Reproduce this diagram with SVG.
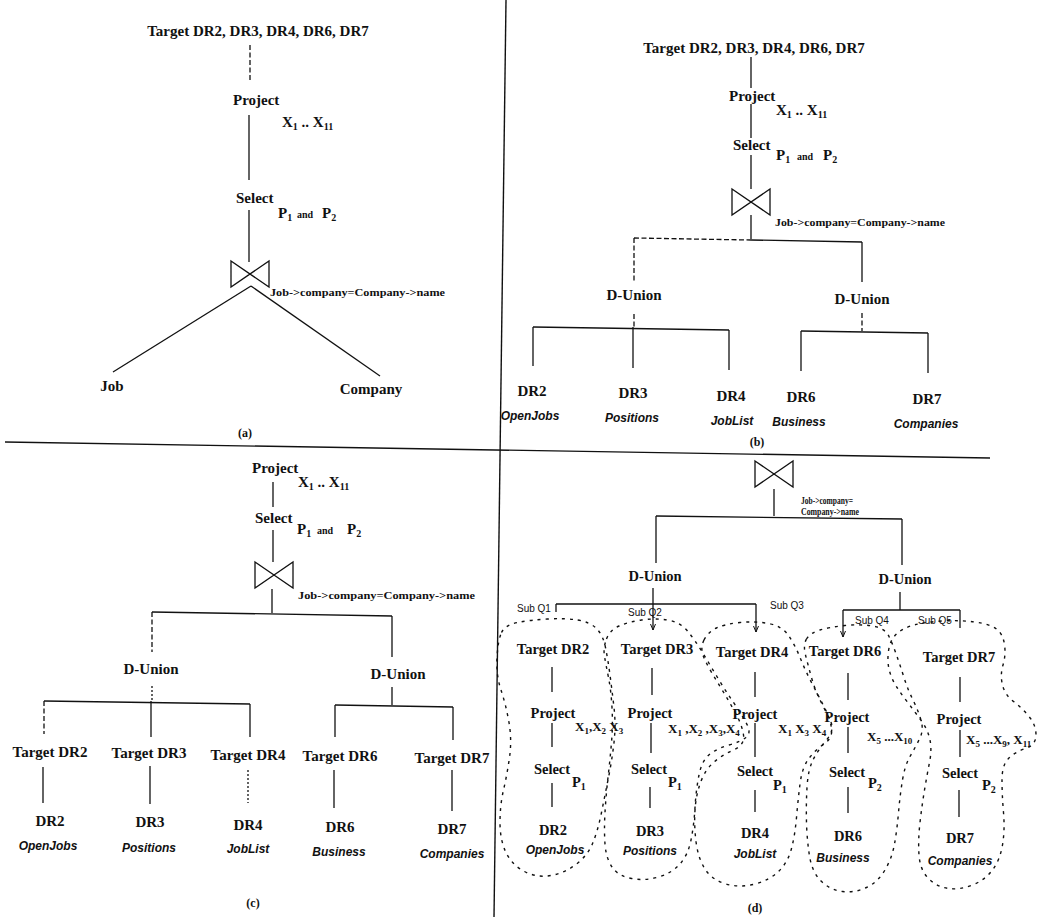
<svg xmlns="http://www.w3.org/2000/svg" width="1038" height="917" viewBox="0 0 1038 917">
<style>
.t{font-family:"Liberation Serif","Times New Roman",serif;font-weight:bold;font-size:15px;fill:#111}
.d{font-size:14.5px}
.xs{font-size:13px}
.m{text-anchor:middle}
.sb{font-size:10px}
.sb2{font-size:9px}
.sm{font-size:10px}
.j{font-size:11px}
.j2{font-size:10px}
.i{font-family:"Liberation Sans",Arial,sans-serif;font-weight:bold;font-style:italic;font-size:12px;fill:#111;text-anchor:middle}
.q{font-family:"Liberation Sans",Arial,sans-serif;font-size:10px;fill:#111}
.cap{font-family:"Liberation Serif",serif;font-weight:bold;font-size:12px;fill:#111;text-anchor:middle}
.ln{stroke:#111;stroke-width:1.3;fill:none}
.ds{stroke-dasharray:5 2.5}
.dt{stroke-dasharray:2 2}
.bt{stroke:#111;stroke-width:1.3;fill:none}
.bl{stroke:#111;stroke-width:1.4;fill:none;stroke-dasharray:3 5;stroke-linejoin:round}
.dv{stroke:#111;stroke-width:1.4}
</style>
<defs>
<path id="bow" d="M-19,-13 L19,13 L19,-13 L-19,13 Z"/>
<marker id="ah" viewBox="0 0 6 6" refX="6" refY="3" markerWidth="6" markerHeight="6" markerUnits="userSpaceOnUse" orient="auto"><path d="M0,0.5 L6,3 L0,5.5" fill="none" stroke="#111" stroke-width="1"/></marker>
</defs>
<rect width="1038" height="917" fill="#fff"/>

<g id="dividers">
<line class="dv" x1="5" y1="442" x2="990" y2="458"/>
<line class="dv" x1="506" y1="0" x2="494" y2="917"/>
</g>

<g id="connectors">
<!-- (a) -->
<line class="ln ds" x1="250" y1="45" x2="250" y2="82"/>
<line class="ln" x1="249" y1="115" x2="249" y2="180"/>
<line class="ln" x1="249" y1="210" x2="249" y2="262"/>
<line class="ln" x1="251" y1="286" x2="113" y2="372"/>
<line class="ln" x1="251" y1="286" x2="380" y2="376"/>
<!-- (b) -->
<line class="ln" x1="751" y1="57" x2="751" y2="88"/>
<line class="ln" x1="751" y1="104" x2="751" y2="138"/>
<line class="ln" x1="751" y1="155" x2="751" y2="189"/>
<line class="ln" x1="751" y1="215" x2="751" y2="239"/>
<line class="ln ds" x1="634" y1="238" x2="751" y2="240"/>
<line class="ln" x1="751" y1="240" x2="862" y2="242"/>
<line class="ln ds" x1="634" y1="238" x2="634" y2="281"/>
<line class="ln" x1="862" y1="242" x2="862" y2="282"/>
<line class="ln ds" x1="634" y1="314" x2="634" y2="327"/>
<line class="ln" x1="533" y1="327" x2="729" y2="330"/>
<line class="ln" x1="533" y1="327" x2="533" y2="366"/>
<line class="ln" x1="633" y1="327" x2="633" y2="368"/>
<line class="ln" x1="729" y1="330" x2="729" y2="370"/>
<line class="ln ds" x1="862" y1="313" x2="862" y2="331"/>
<line class="ln" x1="801" y1="331" x2="928" y2="333"/>
<line class="ln" x1="801" y1="331" x2="801" y2="371"/>
<line class="ln" x1="928" y1="333" x2="928" y2="373"/>
<!-- (c) -->
<line class="ln" x1="273" y1="482" x2="273" y2="507"/>
<line class="ln" x1="273" y1="530" x2="273" y2="562"/>
<line class="ln" x1="272" y1="589" x2="272" y2="613"/>
<line class="ln" x1="152" y1="612" x2="392" y2="616"/>
<line class="ln ds" x1="152" y1="612" x2="152" y2="652"/>
<line class="ln" x1="392" y1="616" x2="392" y2="657"/>
<line class="ln dt" x1="152" y1="686" x2="152" y2="701"/>
<line class="ln" x1="44" y1="701" x2="250" y2="704"/>
<line class="ln ds" x1="44" y1="701" x2="44" y2="734"/>
<line class="ln" x1="151" y1="701" x2="151" y2="737"/>
<line class="ln" x1="250" y1="704" x2="250" y2="737"/>
<line class="ln" x1="392" y1="687" x2="392" y2="705"/>
<line class="ln" x1="335" y1="705" x2="453" y2="707"/>
<line class="ln" x1="335" y1="705" x2="335" y2="737"/>
<line class="ln" x1="453" y1="707" x2="453" y2="740"/>
<line class="ln" x1="43" y1="767" x2="43" y2="803"/>
<line class="ln" x1="150" y1="766" x2="150" y2="804"/>
<line class="ln dt" x1="248" y1="770" x2="248" y2="803"/>
<line class="ln" x1="334" y1="770" x2="334" y2="808"/>
<line class="ln" x1="452" y1="770" x2="452" y2="811"/>
<!-- (d) -->
<line class="ln" x1="774" y1="489" x2="774" y2="516"/>
<line class="ln" x1="656" y1="516" x2="902" y2="519"/>
<line class="ln" x1="656" y1="516" x2="656" y2="563"/>
<line class="ln" x1="902" y1="519" x2="902" y2="565"/>
<line class="ln" x1="653" y1="588" x2="653" y2="630" marker-end="url(#ah)"/>
<line class="ln" x1="556" y1="604" x2="756" y2="604"/>
<line class="ln" x1="556" y1="604" x2="556" y2="612"/>
<line class="ln" x1="756" y1="604" x2="756" y2="632" marker-end="url(#ah)"/>
<line class="ln" x1="900" y1="592" x2="900" y2="610"/>
<line class="ln" x1="843" y1="610" x2="960" y2="610"/>
<line class="ln" x1="843" y1="610" x2="843" y2="637" marker-end="url(#ah)"/>
<line class="ln" x1="960" y1="610" x2="960" y2="628"/>
<line class="ln" x1="552" y1="667" x2="552" y2="692"/>
<line class="ln" x1="552" y1="723" x2="552" y2="747"/>
<line class="ln" x1="552" y1="783" x2="552" y2="807"/>
<line class="ln" x1="652" y1="668" x2="652" y2="695"/>
<line class="ln" x1="651" y1="723" x2="651" y2="753"/>
<line class="ln" x1="650" y1="787" x2="650" y2="808"/>
<line class="ln" x1="755" y1="672" x2="755" y2="697"/>
<line class="ln" x1="755" y1="723" x2="755" y2="757"/>
<line class="ln" x1="755" y1="790" x2="755" y2="812"/>
<line class="ln" x1="848" y1="673" x2="848" y2="700"/>
<line class="ln" x1="848" y1="727" x2="848" y2="753"/>
<line class="ln" x1="848" y1="787" x2="848" y2="813"/>
<line class="ln" x1="960" y1="677" x2="960" y2="702"/>
<line class="ln" x1="960" y1="730" x2="960" y2="757"/>
<line class="ln" x1="959" y1="790" x2="959" y2="817"/>
</g>

<g id="subqueries">
<path id="subq1" class="bl" d="M501.5,632.5 Q505,625 517.5,622.5 Q530,620 547.5,619 Q565,618 577.5,620 Q590,622 596.5,628.5 Q603,635 605.5,647.5 Q608,660 610,675 Q612,690 614,707.5 Q616,725 614,742.5 Q612,760 608.5,777.5 Q605,795 601.5,812.5 Q598,830 593,842.5 Q588,855 576.5,864 Q565,873 551,875.5 Q537,878 524.5,871.5 Q512,865 506,852.5 Q500,840 500,822.5 Q500,805 503.5,790 Q507,775 509.5,757.5 Q512,740 509,722.5 Q506,705 501,690 Q496,675 497,657.5 Q498,640 501.5,632.5 Z"/>
<path id="subq2" class="bl" d="M606.5,639 Q610,630 619,626 Q628,622 641.5,620 Q655,618 667.5,620 Q680,622 687.5,631 Q695,640 702.5,652.5 Q710,665 717.5,677.5 Q725,690 732.5,701 Q740,712 746,722.5 Q752,733 746,737.5 Q740,742 729,745 Q718,748 710,754 Q702,760 699,775 Q696,790 695,807.5 Q694,825 691,840 Q688,855 680,864 Q672,873 658.5,877 Q645,881 631.5,878.5 Q618,876 612,867 Q606,858 605,844 Q604,830 605,812.5 Q606,795 608,777.5 Q610,760 611.5,742.5 Q613,725 612,707.5 Q611,690 608.5,677.5 Q606,665 604.5,656.5 Q603,648 606.5,639 Z"/>
<path id="subq3" class="bl" d="M704,640 Q708,632 716.5,628 Q725,624 740,622.5 Q755,621 768.5,623.5 Q782,626 788.5,635.5 Q795,645 800,657.5 Q805,670 811.5,682.5 Q818,695 824,706.5 Q830,718 831.5,728 Q833,738 824,744 Q815,750 808.5,759 Q802,768 800,784 Q798,800 796.5,817.5 Q795,835 791.5,848.5 Q788,862 779,871 Q770,880 755,884 Q740,888 726,884 Q712,880 705,869 Q698,858 696,841.5 Q694,825 695,810 Q696,795 700.5,782.5 Q705,770 713.5,762.5 Q722,755 733.5,750 Q745,745 743.5,735 Q742,725 736,714 Q730,703 724,693 Q718,683 712.5,674 Q707,665 703.5,656.5 Q700,648 704,640 Z"/>
<path id="subq4" class="bl" d="M806.5,639 Q810,633 820,630 Q830,627 845,625.5 Q860,624 872.5,626 Q885,628 889,636.5 Q893,645 896.5,655 Q900,665 904,677.5 Q908,690 913,700 Q918,710 921,720 Q924,730 919.5,739 Q915,748 910,756.5 Q905,765 902.5,780 Q900,795 898.5,812.5 Q897,830 894.5,844 Q892,858 885,870 Q878,882 866.5,887.5 Q855,893 842.5,891.5 Q830,890 821,881 Q812,872 809.5,856 Q807,840 806.5,822.5 Q806,805 807,787.5 Q808,770 813,760 Q818,750 826.5,740 Q835,730 830.5,721 Q826,712 820.5,701 Q815,690 811.5,677.5 Q808,665 805.5,655 Q803,645 806.5,639 Z"/>
<path id="subq5" class="bl" d="M888.5,651 Q890,640 896.5,634 Q903,628 914,625 Q925,622 942.5,621 Q960,620 975,622 Q990,624 996.5,629 Q1003,634 1004.5,644.5 Q1006,655 1003,665 Q1000,675 1002.5,685 Q1005,695 1013.5,701.5 Q1022,708 1029,716.5 Q1036,725 1036,735 Q1036,745 1025.5,748.5 Q1015,752 1008.5,758.5 Q1002,765 1002,780 Q1002,795 1003.5,812.5 Q1005,830 1002.5,845 Q1000,860 992.5,870 Q985,880 972.5,885 Q960,890 948.5,888.5 Q937,887 928.5,878.5 Q920,870 919,855 Q918,840 920,822.5 Q922,805 924.5,790 Q927,775 929.5,762.5 Q932,750 930,740 Q928,730 921.5,721 Q915,712 908.5,703.5 Q902,695 897,687.5 Q892,680 889.5,671 Q887,662 888.5,651 Z"/>
</g>

<!-- ===== (a) ===== -->
<g id="a-target"><text class="t m" x="258" y="36">Target DR2, DR3, DR4, DR6, DR7</text></g>
<g id="a-project"><text class="t" x="233" y="105">Project</text>
<text class="t" x="282" y="127">X<tspan class="sb" dy="3">1</tspan><tspan dy="-3"> .. X</tspan><tspan class="sb" dy="3">11</tspan></text></g>
<g id="a-select"><text class="t" x="236" y="203">Select</text>
<text class="t" x="278" y="218">P<tspan class="sb" dy="3">1</tspan><tspan class="sm" x="297" dy="-3">and</tspan><tspan x="322">P</tspan><tspan class="sb" dy="3">2</tspan></text></g>
<g id="a-join"><use href="#bow" class="bt" transform="translate(250,274)"/>
<text class="t j" x="270" y="296" textLength="175" lengthAdjust="spacingAndGlyphs">Job-&gt;company=Company-&gt;name</text></g>
<g id="a-job"><text class="t m" x="112" y="391">Job</text></g>
<g id="a-company"><text class="t m" x="371" y="394">Company</text></g>
<g id="a-caption"><text class="cap" x="245" y="437">(a)</text></g>

<!-- ===== (b) ===== -->
<g id="b-target"><text class="t m" x="754" y="53">Target DR2, DR3, DR4, DR6, DR7</text></g>
<g id="b-project"><text class="t" x="729" y="101">Project</text>
<text class="t" x="776" y="115">X<tspan class="sb" dy="3">1</tspan><tspan dy="-3"> .. X</tspan><tspan class="sb" dy="3">11</tspan></text></g>
<g id="b-select"><text class="t" x="733" y="150">Select</text>
<text class="t" x="776" y="160">P<tspan class="sb" dy="3">1</tspan><tspan class="sm" x="797" dy="-3">and</tspan><tspan x="823">P</tspan><tspan class="sb" dy="3">2</tspan></text></g>
<g id="b-join"><use href="#bow" class="bt" transform="translate(751,202)"/>
<text class="t j" x="775" y="226" textLength="170" lengthAdjust="spacingAndGlyphs">Job-&gt;company=Company-&gt;name</text></g>
<g id="b-dunion1"><text class="t m" x="634" y="300">D-Union</text></g>
<g id="b-dunion2"><text class="t m" x="862" y="304">D-Union</text></g>
<g id="b-dr2"><text class="t m" x="532" y="396">DR2</text><text class="i" x="530" y="420">OpenJobs</text></g>
<g id="b-dr3"><text class="t m" x="633" y="398">DR3</text><text class="i" x="632" y="422">Positions</text></g>
<g id="b-dr4"><text class="t m" x="731" y="401">DR4</text><text class="i" x="732" y="425">JobList</text></g>
<g id="b-dr6"><text class="t m" x="801" y="402">DR6</text><text class="i" x="799" y="426">Business</text></g>
<g id="b-dr7"><text class="t m" x="927" y="404">DR7</text><text class="i" x="926" y="428">Companies</text></g>
<g id="b-caption"><text class="cap" x="757" y="446">(b)</text></g>

<!-- ===== (c) ===== -->
<g id="c-project"><text class="t" x="252" y="473">Project</text>
<text class="t" x="298" y="487">X<tspan class="sb" dy="3">1</tspan><tspan dy="-3"> .. X</tspan><tspan class="sb" dy="3">11</tspan></text></g>
<g id="c-select"><text class="t" x="255" y="523">Select</text>
<text class="t" x="297" y="534">P<tspan class="sb" dy="3">1</tspan><tspan class="sm" x="317" dy="-3">and</tspan><tspan x="347">P</tspan><tspan class="sb" dy="3">2</tspan></text></g>
<g id="c-join"><use href="#bow" class="bt" transform="translate(274,575)"/>
<text class="t j" x="298" y="599" textLength="177" lengthAdjust="spacingAndGlyphs">Job-&gt;company=Company-&gt;name</text></g>
<g id="c-dunion1"><text class="t m" x="151" y="674">D-Union</text></g>
<g id="c-dunion2"><text class="t m" x="398" y="679">D-Union</text></g>
<g id="c-tdr2"><text class="t m" x="50" y="757">Target DR2</text></g>
<g id="c-tdr3"><text class="t m" x="149" y="758">Target DR3</text></g>
<g id="c-tdr4"><text class="t m" x="248" y="760">Target DR4</text></g>
<g id="c-tdr6"><text class="t m" x="340" y="761">Target DR6</text></g>
<g id="c-tdr7"><text class="t m" x="452" y="763">Target DR7</text></g>
<g id="c-dr2"><text class="t m" x="50" y="826">DR2</text><text class="i" x="48" y="850">OpenJobs</text></g>
<g id="c-dr3"><text class="t m" x="150" y="827">DR3</text><text class="i" x="149" y="852">Positions</text></g>
<g id="c-dr4"><text class="t m" x="248" y="830">DR4</text><text class="i" x="248" y="853">JobList</text></g>
<g id="c-dr6"><text class="t m" x="340" y="832">DR6</text><text class="i" x="339" y="856">Business</text></g>
<g id="c-dr7"><text class="t m" x="452" y="834">DR7</text><text class="i" x="452" y="858">Companies</text></g>
<g id="c-caption"><text class="cap" x="253" y="907">(c)</text></g>

<!-- ===== (d) ===== -->
<g id="d-join"><use href="#bow" class="bt" transform="translate(774,474)"/>
<text class="t j2" x="801" y="504" textLength="52" lengthAdjust="spacingAndGlyphs">Job-&gt;company=</text>
<text class="t j2" x="801" y="515" textLength="58" lengthAdjust="spacingAndGlyphs">Company-&gt;name</text></g>
<g id="d-dunion1"><text class="t d m" x="655" y="581">D-Union</text></g>
<g id="d-dunion2"><text class="t d m" x="905" y="584">D-Union</text></g>
<g id="d-subq-labels">
<text class="q" x="517" y="612">Sub Q1</text>
<text class="q" x="628" y="616">Sub Q2</text>
<text class="q" x="770" y="609">Sub Q3</text>
<text class="q" x="855" y="624">Sub Q4</text>
<text class="q" x="918" y="624">Sub Q5</text>
</g>
<g id="d-col2">
<text class="t d m" x="553" y="654">Target DR2</text>
<text class="t d m" x="553" y="718">Project</text>
<text class="t xs" x="575" y="731">X<tspan class="sb2" dy="3">1</tspan><tspan dy="-3">,X</tspan><tspan class="sb2" dy="3">2</tspan><tspan dy="-3"> X</tspan><tspan class="sb2" dy="3">3</tspan></text>
<text class="t d m" x="552" y="774">Select</text>
<text class="t d" x="572" y="787">P<tspan class="sb" dy="3">1</tspan></text>
<text class="t d m" x="553" y="835">DR2</text>
<text class="i" x="555" y="854">OpenJobs</text>
</g>
<g id="d-col3">
<text class="t d m" x="657" y="654">Target DR3</text>
<text class="t d m" x="650" y="718">Project</text>
<text class="t xs" x="668" y="733">X<tspan class="sb2" dy="3">1</tspan><tspan dy="-3"> ,X</tspan><tspan class="sb2" dy="3">2</tspan><tspan dy="-3"> ,X</tspan><tspan class="sb2" dy="3">3</tspan><tspan dy="-3">,X</tspan><tspan class="sb2" dy="3">4</tspan></text>
<text class="t d m" x="649" y="774">Select</text>
<text class="t d" x="668" y="787">P<tspan class="sb" dy="3">1</tspan></text>
<text class="t d m" x="650" y="836">DR3</text>
<text class="i" x="650" y="855">Positions</text>
</g>
<g id="d-col4">
<text class="t d m" x="752" y="657">Target DR4</text>
<text class="t d m" x="755" y="719">Project</text>
<text class="t xs" x="778" y="733">X<tspan class="sb2" dy="3">1</tspan><tspan dy="-3"> X</tspan><tspan class="sb2" dy="3">3</tspan><tspan dy="-3"> X</tspan><tspan class="sb2" dy="3">4</tspan></text>
<text class="t d m" x="755" y="776">Select</text>
<text class="t d" x="773" y="790">P<tspan class="sb" dy="3">1</tspan></text>
<text class="t d m" x="755" y="838">DR4</text>
<text class="i" x="755" y="858">JobList</text>
</g>
<g id="d-col6">
<text class="t d m" x="845" y="656">Target DR6</text>
<text class="t d m" x="847" y="722">Project</text>
<text class="t xs" x="867" y="741">X<tspan class="sb2" dy="3">5</tspan><tspan dy="-3"> ...X</tspan><tspan class="sb2" dy="3">10</tspan></text>
<text class="t d m" x="847" y="777">Select</text>
<text class="t d" x="868" y="788">P<tspan class="sb" dy="3">2</tspan></text>
<text class="t d m" x="848" y="841">DR6</text>
<text class="i" x="843" y="862">Business</text>
</g>
<g id="d-col7">
<text class="t d m" x="959" y="662">Target DR7</text>
<text class="t d m" x="959" y="724">Project</text>
<text class="t xs" x="966" y="744">X<tspan class="sb2" dy="3">5</tspan><tspan dy="-3"> ...X</tspan><tspan class="sb2" dy="3">9</tspan><tspan dy="-3">, X</tspan><tspan class="sb2" dy="3">11</tspan></text>
<text class="t d m" x="960" y="778">Select</text>
<text class="t d" x="982" y="790">P<tspan class="sb" dy="3">2</tspan></text>
<text class="t d m" x="960" y="843">DR7</text>
<text class="i" x="960" y="865">Companies</text>
</g>
<g id="d-caption"><text class="cap" x="755" y="912">(d)</text></g>
</svg>
